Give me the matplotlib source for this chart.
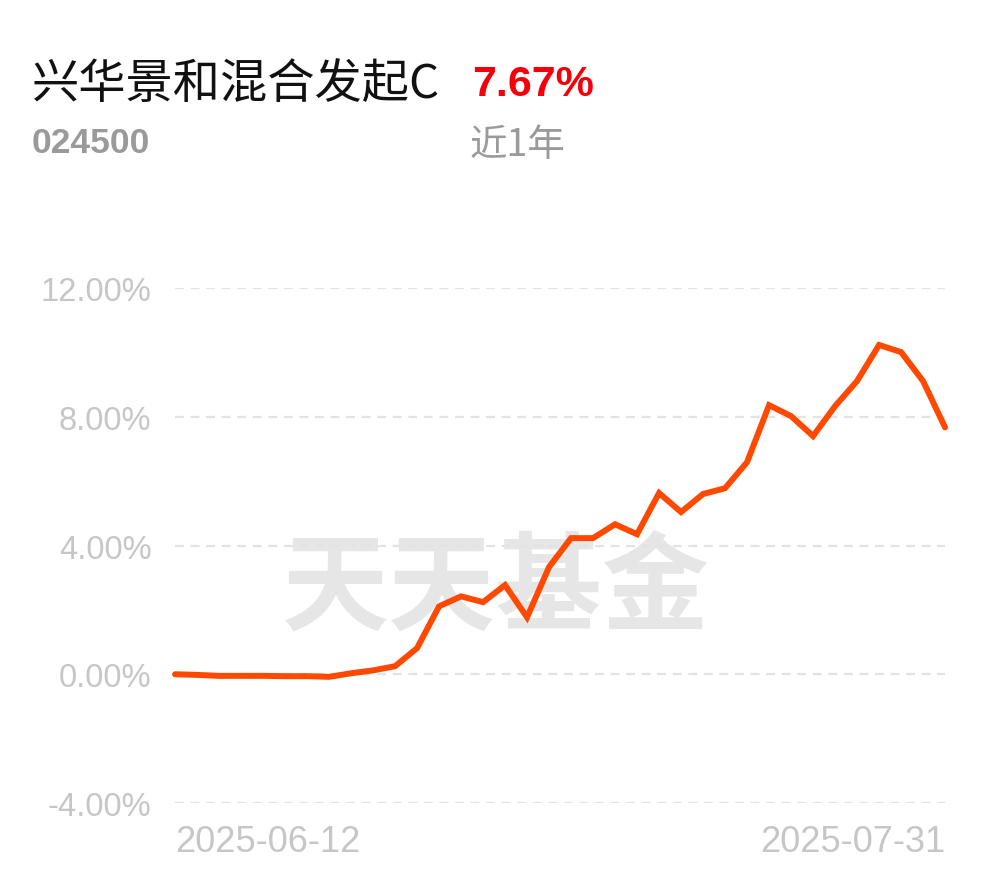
import matplotlib
matplotlib.use("Agg")
import matplotlib.pyplot as plt

# fund info
fund_name = "兴华景和混合发起C"
fund_code = "024500"
period_label = "近1年"
period_return = "7.67%"

# trading days 2025-06-12 .. 2025-07-31
dates = ["2025-06-12", "2025-06-13", "2025-06-16", "2025-06-17", "2025-06-18",
         "2025-06-19", "2025-06-20", "2025-06-23", "2025-06-24", "2025-06-25",
         "2025-06-26", "2025-06-27", "2025-06-30", "2025-07-01", "2025-07-02",
         "2025-07-03", "2025-07-04", "2025-07-07", "2025-07-08", "2025-07-09",
         "2025-07-10", "2025-07-11", "2025-07-14", "2025-07-15", "2025-07-16",
         "2025-07-17", "2025-07-18", "2025-07-21", "2025-07-22", "2025-07-23",
         "2025-07-24", "2025-07-25", "2025-07-28", "2025-07-29", "2025-07-30",
         "2025-07-31"]
# cumulative return in %
returns = [0.00, -0.02, -0.05, -0.05, -0.05, -0.06, -0.06, -0.08, 0.03, 0.12,
           0.25, 0.81, 2.11, 2.42, 2.24, 2.77, 1.77, 3.33, 4.23, 4.23,
           4.66, 4.35, 5.63, 5.04, 5.60, 5.78, 6.59, 8.36, 8.02, 7.40,
           8.33, 9.11, 10.23, 10.01, 9.11, 7.67]
yticks = [-4, 0, 4, 8, 12]
ytick_labels = ["-4.00%", "0.00%", "4.00%", "8.00%", "12.00%"]

narrow = ["Liberation Sans", "DejaVu Sans"]
cjk = ["Noto Sans CJK SC", "DejaVu Sans"]

fig = plt.figure(figsize=(9.9, 8.78), dpi=100)
ax = fig.add_axes([0.1768, 0.0843, 0.7778, 0.5865])

x = list(range(len(dates)))
ax.plot(x, returns, color="#ff4800", lw=4.3, solid_joinstyle="miter",
        solid_capstyle="round", zorder=3, clip_on=False)

ax.set_xlim(0, len(dates) - 1)
ax.set_ylim(-4, 12)
ax.set_yticks(yticks, ytick_labels)
ax.yaxis.grid(True, color="#e3e3e3", lw=1.6, ls=(0, (4, 3)), zorder=1)
ax.set_axisbelow(True)
for s in ax.spines.values():
    s.set_visible(False)
ax.tick_params(axis="y", length=0, pad=17, labelsize=23.5, labelcolor="#c6c6c6")
ax.set_xticks([0, len(dates) - 1], [dates[0], dates[-1]])
ax.tick_params(axis="x", length=0, pad=15, labelsize=26, labelcolor="#c6c6c6")
for lab in ax.get_yticklabels() + ax.get_xticklabels():
    lab.set_family(narrow)
xl = ax.get_xticklabels()
xl[0].set_ha("left")
xl[1].set_ha("right")

# watermark
ax.text(0.417, 0.4155, "天天基金", transform=ax.transAxes, ha="center", va="center",
        fontsize=77, fontweight="bold", color="#e6e6e6", family=cjk, zorder=0)

# header
fig.text(0.0323, 0.903, fund_name, ha="left", va="center", fontsize=34,
         color="#111111", family=cjk)
fig.text(0.4768, 0.903, period_return, ha="left", va="center", fontsize=31,
         fontweight="bold", color="#f5000a", family=narrow)
fig.text(0.0323, 0.836, fund_code, ha="left", va="center", fontsize=25.5,
         fontweight="bold", color="#9a9a9a", family=narrow)
fig.text(0.4747, 0.834, period_label, ha="left", va="center", fontsize=27,
         color="#9a9a9a", family=cjk)

fig.savefig("out.png", dpi=100)
